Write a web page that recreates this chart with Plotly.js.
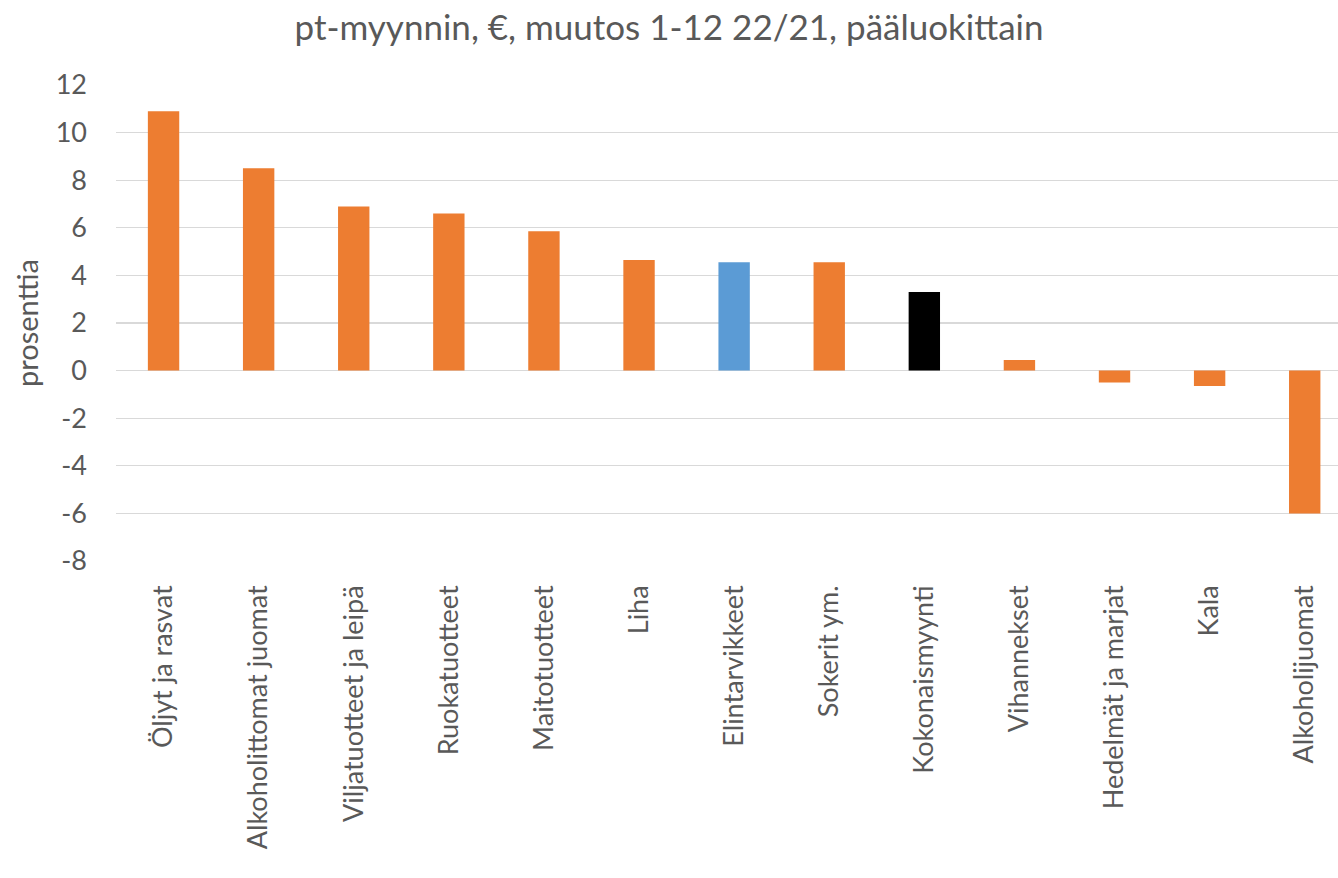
<!DOCTYPE html>
<html>
<head>
<meta charset="utf-8">
<script src="https://cdn.plot.ly/plotly-3.0.1.min.js"></script>
<style>
  html, body { margin: 0; padding: 0; background: #fff; overflow: hidden; }
  #chart { width: 1338px; height: 878px; }
</style>
</head>
<body>
<div id="chart"></div>
<script>
// categories and % change 1-12 22/21
const categories = [
  "Öljyt ja rasvat",
  "Alkoholittomat juomat",
  "Viljatuotteet ja leipä",
  "Ruokatuotteet",
  "Maitotuotteet",
  "Liha",
  "Elintarvikkeet",
  "Sokerit ym.",
  "Kokonaismyynti",
  "Vihannekset",
  "Hedelmät ja marjat",
  "Kala",
  "Alkoholijuomat",
];
const changes = [10.9, 8.5, 6.9, 6.6, 5.85, 4.65, 4.55, 4.55, 3.3, 0.45, -0.5, -0.65, -6.0];

// y axis ticks (hyphen minus like in the original)
const yTickVals = [-8, -6, -4, -2, 0, 2, 4, 6, 8, 10, 12];
const yTickText = ["-8", "-6", "-4", "-2", "0", "2", "4", "6", "8", "10", "12"];

const ORANGE = "#ED7D31";
const BLUE = "#5B9BD5";
const BLACK = "#000000";
const barColors = categories.map(function (c) {
  if (c == "Elintarvikkeet") return BLUE;
  if (c == "Kokonaismyynti") return BLACK;
  return ORANGE;
});

const FONT = "Lato, 'Open Sans', sans-serif";
const TEXT = "#595959";

const trace = {
  type: "bar",
  x: categories,
  y: changes,
  marker: { color: barColors },
  hoverinfo: "x+y",
};

const layout = {
  width: 1338,
  height: 878,
  margin: { l: 116, r: 0, t: 85, b: 317 },
  paper_bgcolor: "#ffffff",
  plot_bgcolor: "#ffffff",
  font: { family: FONT, color: TEXT, size: 27 },
  title: {
    text: "pt-myynnin, €, muutos 1-12 22/21, pääluokittain",
    font: { family: FONT, size: 35, color: TEXT },
    x: 0.5,
    xanchor: "center",
    y: 0.968,
    yanchor: "middle",
  },
  bargap: 0.67,
  showlegend: false,
  xaxis: {
    type: "category",
    range: [-0.5, 12.35],
    autorange: false,
    tickangle: -90,
    ticks: "",
    showgrid: false,
    showline: false,
    zeroline: false,
    tickfont: { family: FONT, size: 27, color: TEXT },
    ticklabelstandoff: 18,
  },
  yaxis: {
    range: [-8, 12],
    autorange: false,
    tickmode: "array",
    tickvals: yTickVals,
    ticktext: yTickText,
    ticks: "",
    showgrid: true,
    gridcolor: "#D9D9D9",
    gridwidth: 1.3,
    zeroline: true,
    zerolinecolor: "#D9D9D9",
    zerolinewidth: 1.3,
    showline: false,
    tickfont: { family: FONT, size: 27, color: TEXT },
    ticklabelstandoff: 28,
    title: {
      text: "prosenttia",
      font: { family: FONT, size: 29, color: TEXT },
      standoff: 8,
    },
  },
};

Plotly.newPlot("chart", [trace], layout, { displayModeBar: false, staticPlot: true });
</script>
</body>
</html>
